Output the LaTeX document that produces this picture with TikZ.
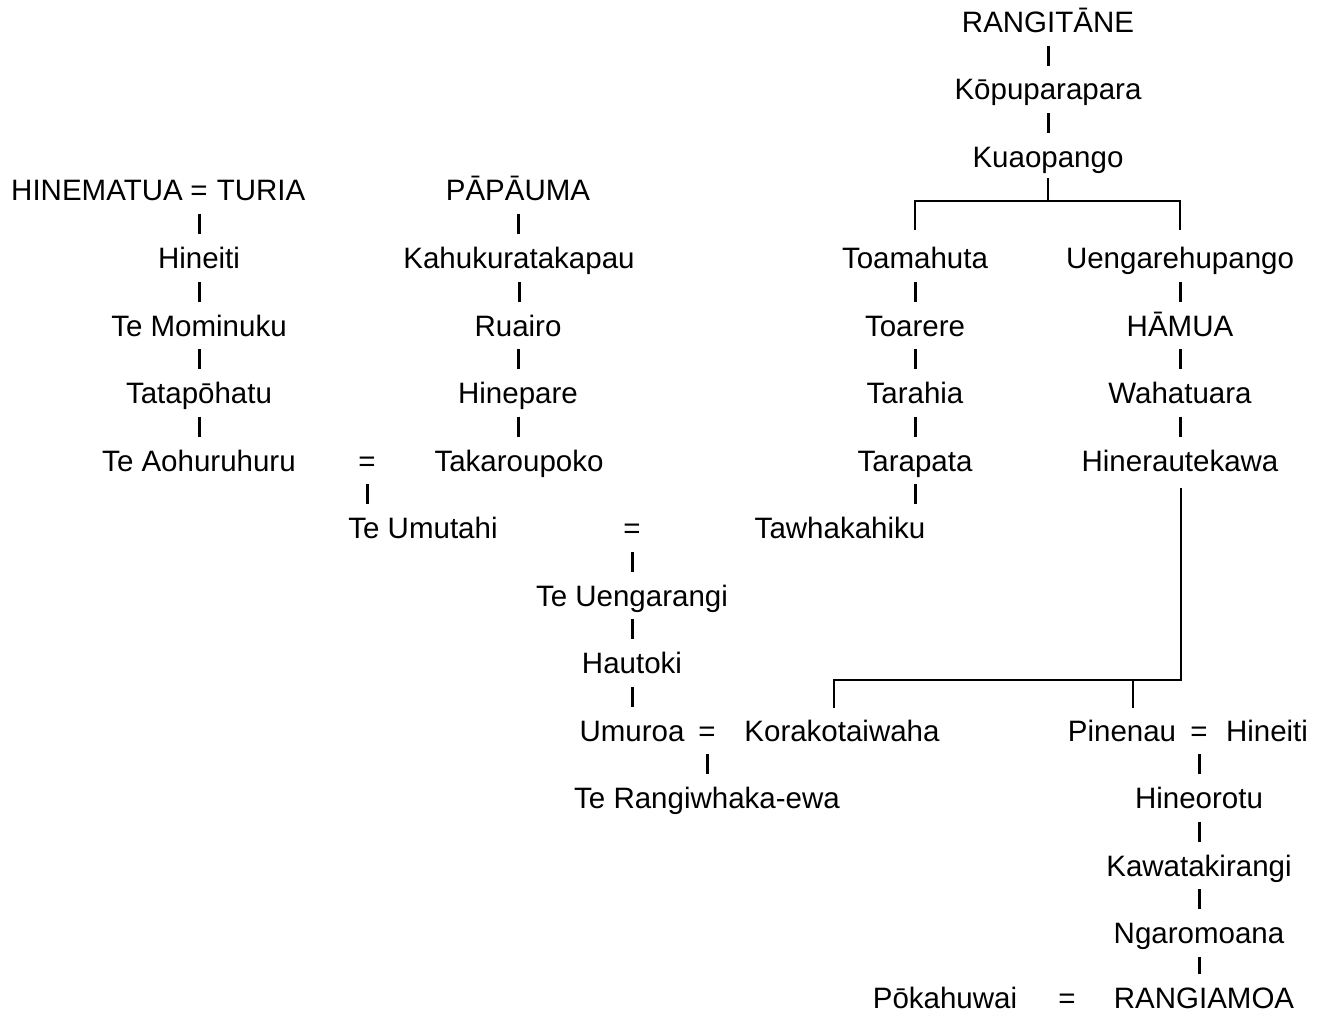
\documentclass[tikz,border=0pt]{standalone}
\usepackage{fontspec}
\setmainfont{Liberation Sans}
\begin{document}
\begin{tikzpicture}[x=1pt,y=-1pt,
  nm/.style={inner sep=0pt,text height=21pt,text depth=0pt,font=\fontsize{29.5}{34}\selectfont},
  bar/.style={line width=3pt,shorten <=13pt,shorten >=13pt},
  fork/.style={line width=2.6pt,line join=miter}]
\useasboundingbox (0,0) rectangle (1322,1014);
% top right lineage
\node[nm] (rangi) at (1048,22) {RANGITĀNE};
\node[nm] (kopu) at (1048,89.5) {Kōpuparapara};
\node[nm] (kuao) at (1048,157) {Kuaopango};
% left
\node[nm] (hinem) at (97,190) {HINEMATUA};
\node[nm] (eqA) at (199,190) {=};
\node[nm] (turia) at (261,190) {TURIA};
\node[nm] (hineiti1) at (199,258) {Hineiti};
\node[nm] (mominuku) at (199,325.5) {Te Mominuku};
\node[nm] (tatap) at (199,393) {Tatapōhatu};
\node[nm] (aohu) at (199,460.5) {Te Aohuruhuru};
\node[nm] (eqB) at (367,460.5) {=};
\node[nm] (takaro) at (519,460.5) {Takaroupoko};
\node[nm] (papa) at (518,190) {PĀPĀUMA};
\node[nm] (kahu) at (519,258) {Kahukuratakapau};
\node[nm] (ruairo) at (518,325.5) {Ruairo};
\node[nm] (hinepare) at (518,393) {Hinepare};
\node[nm] (umutahi) at (423,528) {Te Umutahi};
\node[nm] (eqC) at (632,528) {=};
\node[nm] (tawha) at (840,528) {Tawhakahiku};
\node[nm] (uengarangi) at (632,595.5) {Te Uengarangi};
\node[nm] (hautoki) at (632,663) {Hautoki};
\node[nm] (umuroa) at (632,730.5) {Umuroa};
\node[nm] (eqD) at (707,730.5) {=};
\node[nm] (korako) at (842,730.5) {Korakotaiwaha};
\node[nm] (rangiwh) at (707,798) {Te Rangiwhaka-ewa};
% right
\node[nm] (toama) at (915,258) {Toamahuta};
\node[nm] (toarere) at (915,325.5) {Toarere};
\node[nm] (tarahia) at (915,393) {Tarahia};
\node[nm] (tarapata) at (915,460.5) {Tarapata};
\node[nm] (uengarehu) at (1180,258) {Uengarehupango};
\node[nm] (hamua) at (1180,325.5) {HĀMUA};
\node[nm] (waha) at (1180,393) {Wahatuara};
\node[nm] (hinerau) at (1180,460.5) {Hinerautekawa};
\node[nm] (pinenau) at (1122,730.5) {Pinenau};
\node[nm] (eqE) at (1199,730.5) {=};
\node[nm] (hineiti2) at (1267,730.5) {Hineiti};
\node[nm] (hineorotu) at (1199,798) {Hineorotu};
\node[nm] (kawata) at (1199,865.5) {Kawatakirangi};
\node[nm] (ngaro) at (1199,933) {Ngaromoana};
\node[nm] (pokahu) at (945,998) {Pōkahuwai};
\node[nm] (eqF) at (1067,998) {=};
\node[nm] (rangiamoa) at (1204,998) {RANGIAMOA};
% bars
\foreach \a/\b in {rangi/kopu,kopu/kuao,eqA/hineiti1,hineiti1/mominuku,mominuku/tatap,tatap/aohu,
  papa/kahu,kahu/ruairo,ruairo/hinepare,hinepare/takaro,eqB/umutahi,eqC/uengarangi,
  uengarangi/hautoki,hautoki/umuroa,eqD/rangiwh,toama/toarere,toarere/tarahia,
  tarahia/tarapata,tarapata/tawha,uengarehu/hamua,hamua/waha,waha/hinerau,
  eqE/hineorotu,hineorotu/kawata,kawata/ngaro,ngaro/rangiamoa}
  \draw[bar] (\a.south) -- (\a.south |- \b.north);
% fork 1
\coordinate (f1) at (1048,201);
\draw[fork,shorten <=10.5pt] (kuao.south) -- (f1);
\draw[fork,shorten <=17.5pt,shorten >=17.5pt] (toama.north) -- (f1 -| toama) -- (f1 -| uengarehu) -- (uengarehu.north);
% fork 2
\coordinate (g1) at (1181,680);
\coordinate (g2) at (834,680);
\coordinate (g3) at (834,708);
\coordinate (h1) at (1133,680);
\coordinate (h2) at (1133,708);
\draw[fork,shorten <=17pt] (g1 |- hinerau.south) -- (g1) -- (g2) -- (g3);
\draw[fork] (h1) -- (h2);
\end{tikzpicture}
\end{document}
